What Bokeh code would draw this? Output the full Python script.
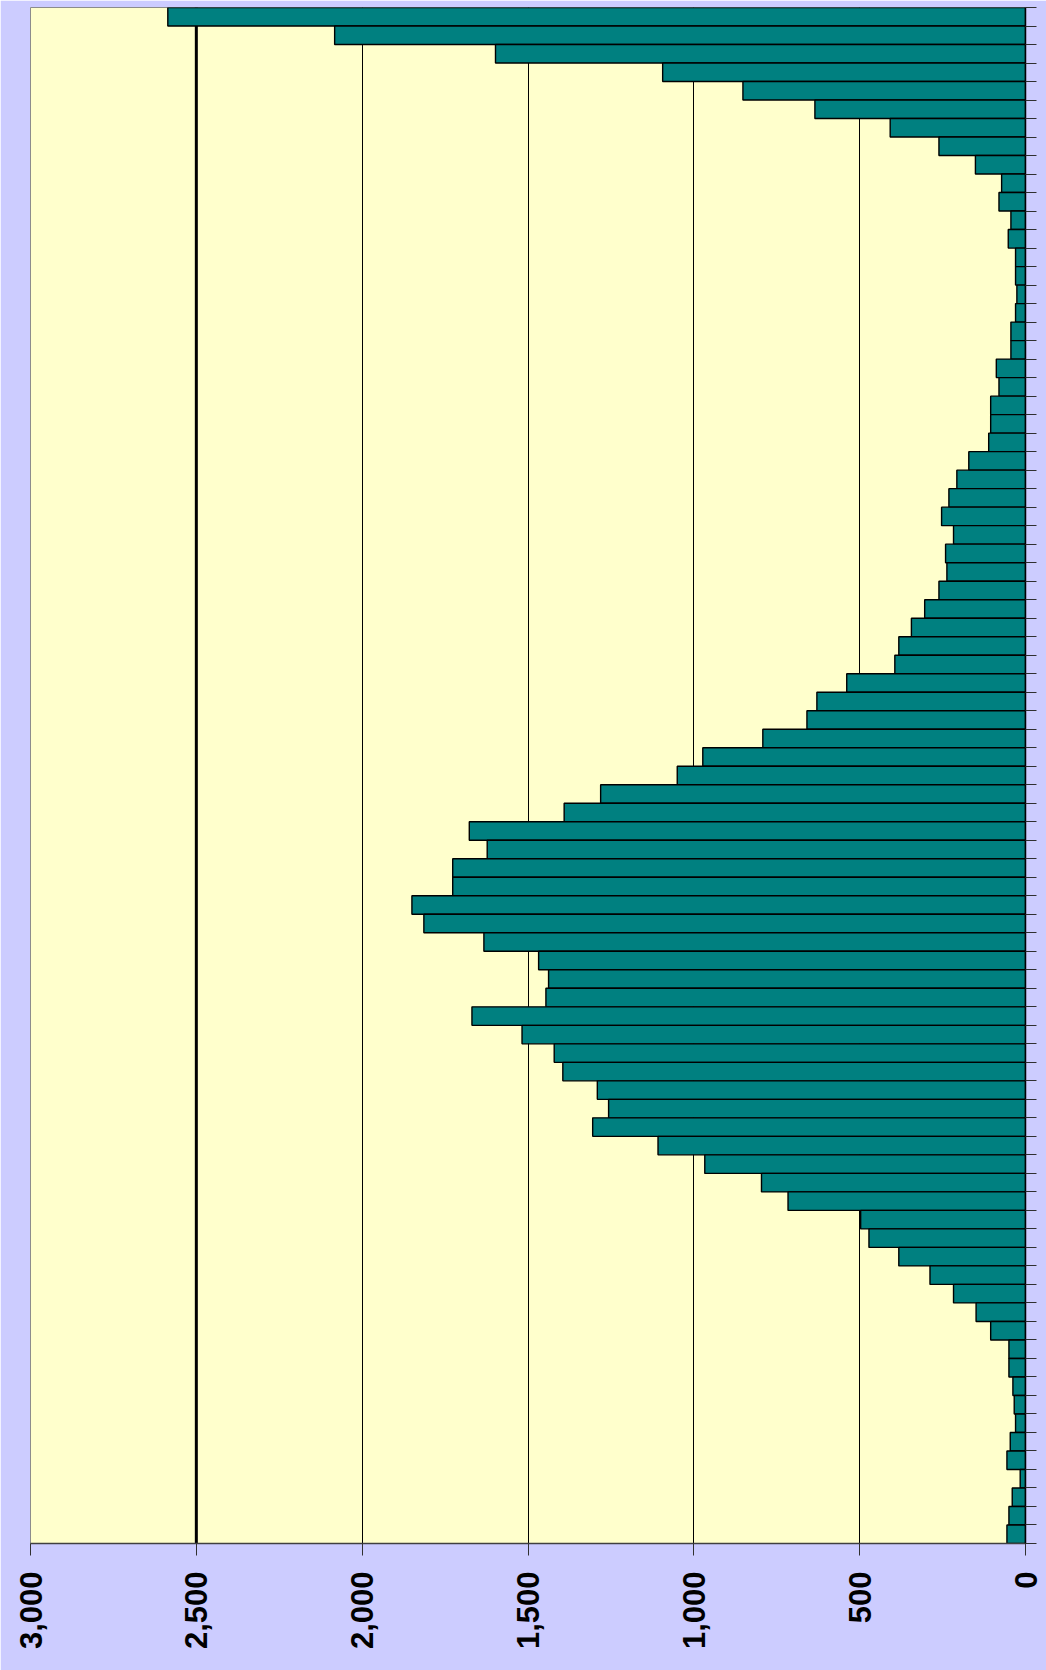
import math
from bokeh.plotting import figure
from bokeh.models import Range1d, FixedTicker, NumeralTickFormatter, Span, ColumnDataSource, CustomJSTickFormatter
from bokeh.embed import file_html
from bokeh.resources import INLINE

# ---- data (top bar first) ----
bins = list(range(1, 84))
values = [2586, 2083, 1598, 1094, 852, 635, 408, 261, 151, 72,
          80, 44, 52, 30, 30, 26, 30, 44, 44, 88,
          80, 105, 105, 111, 171, 207, 231, 253, 217, 241,
          237, 261, 304, 344, 382, 394, 539, 629, 659, 792,
          973, 1050, 1281, 1391, 1677, 1623, 1727, 1727, 1850, 1814,
          1633, 1468, 1438, 1446, 1669, 1518, 1421, 1395, 1291, 1257,
          1305, 1108, 967, 796, 716, 497, 472, 382, 288, 217,
          149, 105, 50, 50, 38, 34, 30, 46, 56, 16,
          40, 50, 56]
x_ticks = [0, 500, 1000, 1500, 2000, 2500, 3000]
grid_ticks = [500, 1000, 1500, 2000]
ref_line = 2500

n = len(bins)
src = ColumnDataSource(dict(bin=bins, value=values))

p = figure(width=1046, height=1670,
           x_range=Range1d(3000, 0), y_range=Range1d(n + 0.5, 0.5),
           output_backend="svg", toolbar_location=None,
           x_axis_location="below", y_axis_location="right",
           min_border_left=30, min_border_right=21, min_border_top=7, min_border_bottom=127)

p.background_fill_color = "#FFFFCC"
p.border_fill_color = "#CCCCFF"
p.outline_line_color = "#8C8C8C"
p.outline_line_width = 1

# grid
p.ygrid.visible = False
p.xgrid.ticker = FixedTicker(ticks=grid_ticks)
p.xgrid.grid_line_color = "black"
p.xgrid.grid_line_width = 1
p.add_layout(Span(location=ref_line, dimension="height", line_color="black",
                  line_width=3, level="underlay"))

p.hbar(y="bin", left=0, right="value", height=1.0, source=src,
       fill_color="#008080", line_color="black", line_width=1.4)

# bottom axis
xa = p.xaxis[0]
xa.ticker = FixedTicker(ticks=x_ticks)
xa.formatter = NumeralTickFormatter(format="0,0")
xa.major_label_orientation = math.pi / 2
xa.major_label_text_font = "Liberation Sans"
xa.major_label_text_font_style = "bold"
xa.major_label_text_font_size = "31px"
xa.major_label_text_color = "black"
xa.major_label_standoff = 16
xa.major_tick_out = 12
xa.major_tick_in = 0
xa.minor_tick_out = 0
xa.minor_tick_in = 0
xa.axis_line_color = "#404040"
xa.axis_line_width = 1.5
xa.major_tick_line_color = "#303030"

# right axis: ticks at bin boundaries, no labels
ya = p.yaxis[0]
ya.ticker = FixedTicker(ticks=[b + 0.5 for b in range(0, n + 1)])
ya.formatter = CustomJSTickFormatter(code="return '';")
ya.major_label_standoff = 0
ya.major_tick_out = 11
ya.major_tick_in = 0
ya.minor_tick_out = 0
ya.minor_tick_in = 0
ya.axis_line_color = "black"
ya.axis_line_width = 1.5
ya.major_tick_line_color = "#303030"

open("out.html", "w").write(file_html(p, INLINE))
